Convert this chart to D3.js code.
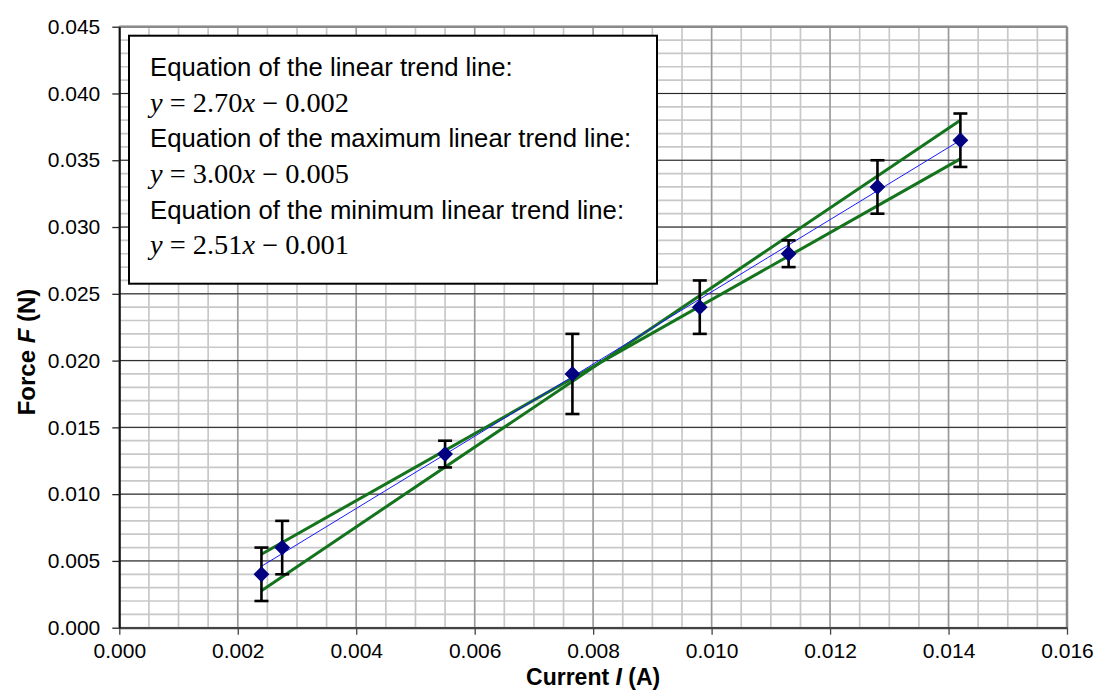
<!DOCTYPE html>
<html>
<head>
<meta charset="utf-8">
<script src="https://cdn.jsdelivr.net/npm/d3@7"></script>
<style>
  body { margin: 0; background: #fff; }
  svg { display: block; font-family: "Liberation Sans", Arial, sans-serif; }
</style>
</head>
<body>
<div id="chart"></div>
<script>
var currentA = [0.0024, 0.00275, 0.0055, 0.00765, 0.0098, 0.0113, 0.0128, 0.0142];
var forceN   = [0.004, 0.006, 0.013, 0.019, 0.024, 0.028, 0.033, 0.0365];
var forceErr = [0.002, 0.002, 0.001, 0.003, 0.002, 0.001, 0.002, 0.002];

// trend lines, drawn between first and last current value
var trendX   = [0.0024, 0.0142];
var bestFitF = [0.0046, 0.0365];
var maxFitF  = [0.00277, 0.0380];
var minFitF  = [0.0055, 0.0351];

var xTicks = [0, 0.002, 0.004, 0.006, 0.008, 0.010, 0.012, 0.014, 0.016];
var yTicks = [0, 0.005, 0.010, 0.015, 0.020, 0.025, 0.030, 0.035, 0.040, 0.045];

var legendLines = [
  {kind: 'text', s: 'Equation of the linear trend line:'},
  {kind: 'eq', m: '2.70', c: '0.002'},
  {kind: 'text', s: 'Equation of the maximum linear trend line:'},
  {kind: 'eq', m: '3.00', c: '0.005'},
  {kind: 'text', s: 'Equation of the minimum linear trend line:'},
  {kind: 'eq', m: '2.51', c: '0.001'}
];

var W = 1096, H = 691;
var plotL = 119.3, plotR = 1067, plotT = 26.7, plotB = 627.7;

var svg = d3.select('#chart').append('svg')
  .attr('width', W)
  .attr('height', H);

var x = d3.scaleLinear().domain([0, 0.016]).range([plotL, plotR]);
var y = d3.scaleLinear().domain([0, 0.045]).range([plotB, plotT]);

// minor grid
var xMinor = d3.range(0, 0.01601, 0.0005);
var yMinor = d3.range(0, 0.04501, 0.001);
var grid = svg.append('g');
grid.selectAll('.xm').data(xMinor).enter().append('line')
  .attr('x1', d => x(d)).attr('x2', d => x(d))
  .attr('y1', plotT).attr('y2', plotB)
  .attr('stroke', '#c8c8c8').attr('stroke-width', 1.7);
grid.selectAll('.ym').data(yMinor).enter().append('line')
  .attr('x1', plotL).attr('x2', plotR)
  .attr('y1', d => y(d)).attr('y2', d => y(d))
  .attr('stroke', '#c8c8c8').attr('stroke-width', 1.7);
// major grid
grid.selectAll('.xM').data(xTicks).enter().append('line')
  .attr('x1', d => x(d)).attr('x2', d => x(d))
  .attr('y1', plotT).attr('y2', plotB)
  .attr('stroke', '#999').attr('stroke-width', 1.4);
grid.selectAll('.yM').data(yTicks).enter().append('line')
  .attr('x1', plotL).attr('x2', plotR)
  .attr('y1', d => y(d)).attr('y2', d => y(d))
  .attr('stroke', '#222').attr('stroke-width', 1);

// frame
svg.append('line').attr('x1', plotL).attr('x2', plotR).attr('y1', plotT).attr('y2', plotT)
  .attr('stroke', '#8a8a8a').attr('stroke-width', 2.5);
svg.append('line').attr('x1', plotR).attr('x2', plotR).attr('y1', plotT).attr('y2', plotB)
  .attr('stroke', '#8a8a8a').attr('stroke-width', 2.5);

// axes
var xAxis = d3.axisBottom(x).tickValues(xTicks).tickFormat(d3.format('.3f')).tickSizeInner(7).tickSizeOuter(0).tickPadding(8);
var yAxis = d3.axisLeft(y).tickValues(yTicks).tickFormat(d3.format('.3f')).tickSizeInner(7).tickSizeOuter(0).tickPadding(12);

var gx = svg.append('g').attr('transform', 'translate(0,' + plotB + ')').call(xAxis);
var gy = svg.append('g').attr('transform', 'translate(' + plotL + ',0)').call(yAxis);
gx.select('.domain').attr('stroke', '#444').attr('stroke-width', 2);
gy.select('.domain').attr('stroke', '#111').attr('stroke-width', 2);
gx.selectAll('.tick line').attr('stroke', '#444').attr('stroke-width', 1.3);
gy.selectAll('.tick line').attr('stroke', '#222').attr('stroke-width', 1.3);
[gx, gy].forEach(function(g) {
  g.attr('font-size', 21).attr('font-family', '"Liberation Sans", Arial, sans-serif');
  g.selectAll('text').style('font-size', '21px').attr('fill', '#000');
});

// trend lines
var line = d3.line().x(d => x(d[0])).y(d => y(d[1]));
var green = '#14731d';
svg.append('path').datum(d3.zip(trendX, maxFitF)).attr('d', line)
  .attr('stroke', green).attr('stroke-width', 3).attr('fill', 'none');
svg.append('path').datum(d3.zip(trendX, minFitF)).attr('d', line)
  .attr('stroke', green).attr('stroke-width', 3).attr('fill', 'none');
svg.append('path').datum(d3.zip(trendX, bestFitF)).attr('d', line)
  .attr('stroke', '#1a1aff').attr('stroke-width', 1).attr('fill', 'none');

// error bars
var pts = currentA.map((c, i) => ({x: c, y: forceN[i], e: forceErr[i]}));
var eb = svg.append('g').attr('stroke', '#000').attr('stroke-width', 2.6);
eb.selectAll('.v').data(pts).enter().append('line')
  .attr('x1', d => x(d.x)).attr('x2', d => x(d.x))
  .attr('y1', d => y(d.y - d.e)).attr('y2', d => y(d.y + d.e));
eb.selectAll('.t').data(pts).enter().append('line')
  .attr('x1', d => x(d.x) - 7).attr('x2', d => x(d.x) + 7)
  .attr('y1', d => y(d.y + d.e)).attr('y2', d => y(d.y + d.e));
eb.selectAll('.b').data(pts).enter().append('line')
  .attr('x1', d => x(d.x) - 7).attr('x2', d => x(d.x) + 7)
  .attr('y1', d => y(d.y - d.e)).attr('y2', d => y(d.y - d.e));

// diamonds
var diamond = d3.symbol().type(d3.symbolSquare).size(125);
svg.selectAll('.pt').data(pts).enter().append('path')
  .attr('d', diamond)
  .attr('transform', d => 'translate(' + x(d.x) + ',' + y(d.y) + ') rotate(45)')
  .attr('fill', '#000080');

// legend box
var lg = svg.append('g');
lg.append('rect').attr('x', 129).attr('y', 35.7).attr('width', 528).attr('height', 248)
  .attr('fill', '#fff').attr('stroke', '#000').attr('stroke-width', 2);
var baselines = [76, 111.7, 147.3, 183, 218.5, 254.2];
legendLines.forEach(function(l, i) {
  if (l.kind === 'text') {
    lg.append('text').attr('x', 150).attr('y', baselines[i])
      .attr('font-size', 25.7).text(l.s);
  } else {
    var t = lg.append('text').attr('x', 150).attr('y', baselines[i])
      .attr('font-family', '"Liberation Serif", "Times New Roman", serif')
      .attr('font-size', 27)
      .attr('textLength', 199).attr('lengthAdjust', 'spacingAndGlyphs');
    t.append('tspan').attr('font-style', 'italic').text('y');
    t.append('tspan').text(' = ' + l.m);
    t.append('tspan').attr('font-style', 'italic').text('x');
    t.append('tspan').text(' \u2212 ' + l.c);
  }
});

// axis titles
var xt = svg.append('text').attr('x', (plotL + plotR) / 2).attr('y', 685)
  .attr('text-anchor', 'middle').attr('font-size', 23).attr('font-weight', 'bold');
xt.append('tspan').text('Current ');
xt.append('tspan').attr('font-style', 'italic').text('I');
xt.append('tspan').text(' (A)');

var yt = svg.append('text').attr('transform', 'translate(35,352) rotate(-90)')
  .attr('text-anchor', 'middle').attr('font-size', 24).attr('font-weight', 'bold');
yt.append('tspan').text('Force ');
yt.append('tspan').attr('font-style', 'italic').text('F');
yt.append('tspan').text(' (N)');
</script>
</body>
</html>
